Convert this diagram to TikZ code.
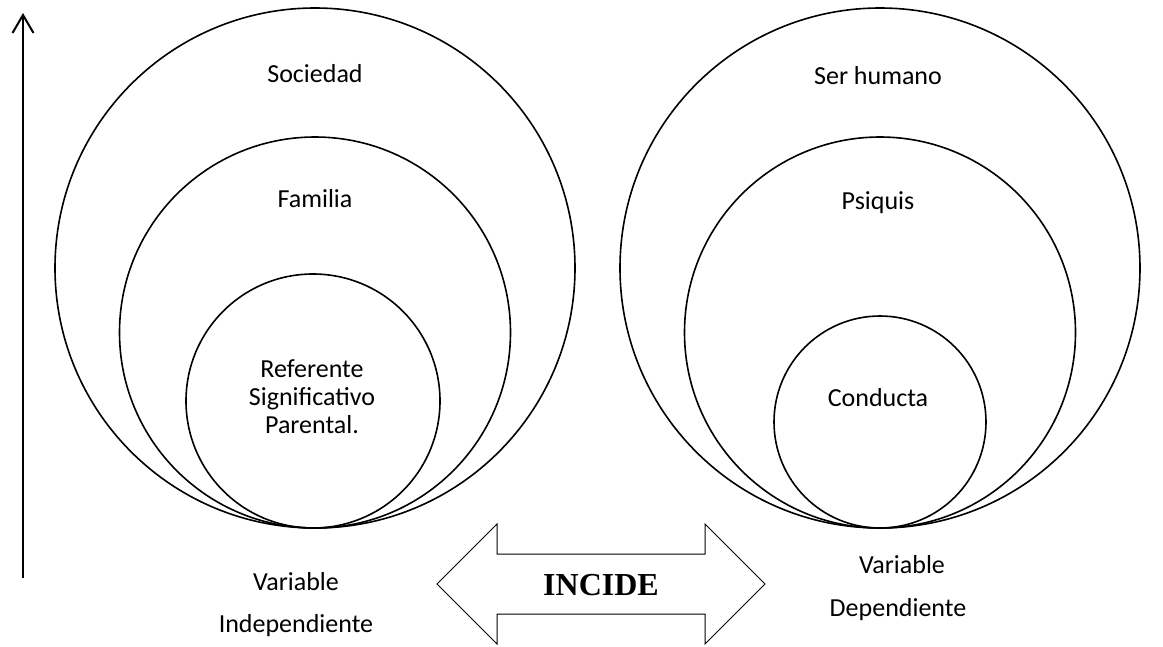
\documentclass[tikz,border=0pt]{standalone}
\usepackage{fontspec}
\setmainfont{Carlito}
\newfontfamily\timesbf{Liberation Serif}
\usetikzlibrary{arrows.meta}
\tikzset{
  ring/.style={circle, draw, line width=1.6pt, inner sep=0pt},
  lbl/.style={font=\fontsize{26}{30}\selectfont, inner sep=0pt, anchor=base},
  blockarrow/.style={draw, line width=1pt, line join=miter},
}
\begin{document}
\begin{tikzpicture}[x=1pt, y=-1pt]
\useasboundingbox (0,0) rectangle (1163,646);
% left vertical arrow
\coordinate (vb) at (23,578);
\coordinate (vt) at (23,13);
\draw[line width=2pt, -{Straight Barb[length=18pt,width=21pt,line width=2pt]}] (vb) -- (vt);
% left circles
\node[ring, minimum size=520pt] (soc) at (315,268) {};
\node[ring, minimum size=391pt] (fam) at (315,332.5) {};
\node[ring, minimum size=254pt] (ref) at (313,401) {};
% right circles
\node[ring, minimum size=520pt] (ser) at (880,268) {};
\node[ring, minimum size=391pt] (psi) at (880,332.5) {};
\node[ring, minimum size=212pt] (con) at (880,422) {};
% labels
\node[lbl] (tsoc) at (315,82) {Sociedad};
\node[lbl] (tfam) at (315,207) {Familia};
\node[lbl] (tr1) at (312,377) {Referente};
\node[lbl] (tr2) at (312,405) {Significativo};
\node[lbl] (tr3) at (312,433) {Parental.};
\node[lbl] (tser) at (878,84) {Ser humano};
\node[lbl] (tpsi) at (878,209) {Psiquis};
\node[lbl] (tcon) at (878,406) {Conducta};
\node[lbl] (vi1) at (296,590) {Variable};
\node[lbl] (vi2) at (296,632) {Independiente};
\node[lbl] (vd1) at (902,573) {Variable};
\node[lbl] (vd2) at (898,616) {Dependiente};
% double block arrow
\draw[blockarrow] (437,584) -- (497,524) -- (497,554) -- (705,554) -- (705,524)
  -- (765,584) -- (705,644) -- (705,614) -- (497,614) -- (497,644) -- cycle;
\node[font=\timesbf\bfseries\fontsize{32}{36}\selectfont, inner sep=0pt] (inc) at (601,585) {INCIDE};
\end{tikzpicture}
\end{document}
